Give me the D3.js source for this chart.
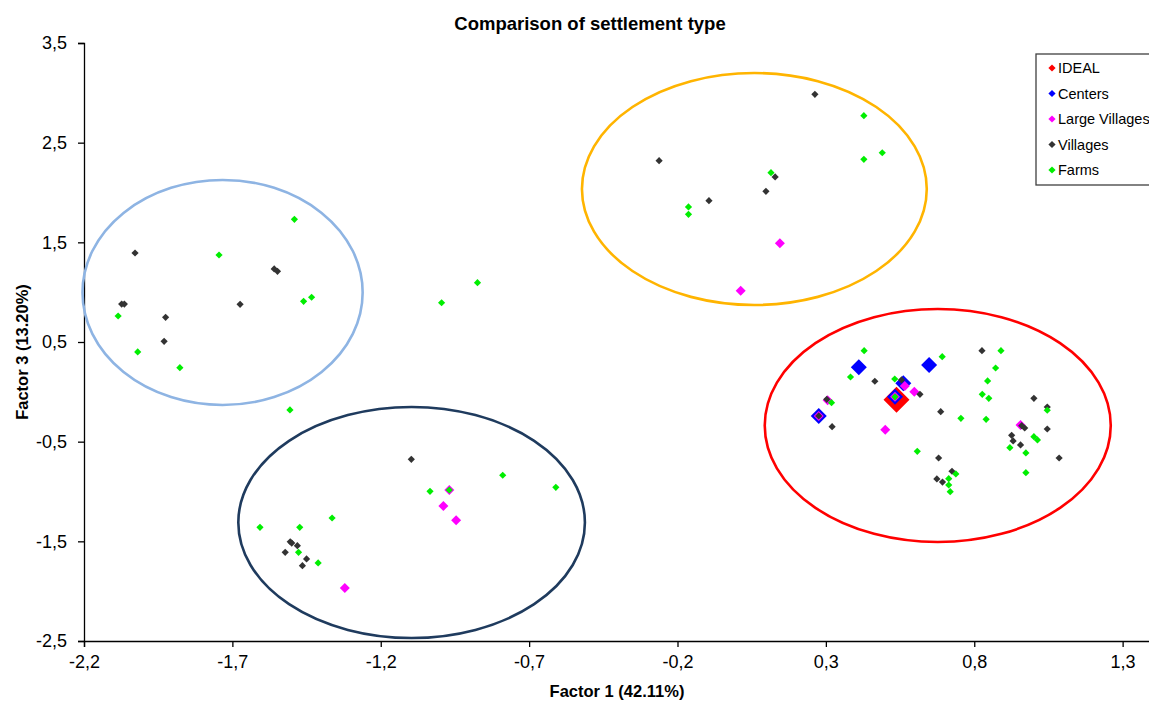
<!DOCTYPE html>
<html>
<head>
<meta charset="utf-8">
<script src="https://cdn.jsdelivr.net/npm/d3@7"></script>
<style>
  html, body { margin: 0; padding: 0; background: #fff; overflow: hidden; }
  svg { display: block; font-family: "Liberation Sans", Arial, sans-serif; }
</style>
</head>
<body>
<svg id="chart" width="1149" height="701"></svg>
<script>
// Factor scores (Factor 1, Factor 3) per settlement type
const ideal = [[0.538, -0.08]];

const centers = [
  [0.411, 0.246], [0.648, 0.269], [0.561, 0.085], [0.533, -0.05], [0.276, -0.242]
];

const largeVillages = [
  [0.145, 1.490], [0.013, 1.015],
  [-0.969, -0.985], [-0.989, -1.145], [-0.946, -1.289], [-1.321, -1.968],
  [0.566, 0.059], [0.598, 0.002], [0.533, -0.05], [0.306, -0.085],
  [0.276, -0.242], [0.500, -0.38], [0.956, -0.333]
];

const villages = [
  [-2.028, 1.393], [-2.073, 0.881], [-2.064, 0.881], [-1.925, 0.748], [-1.930, 0.507],
  [-1.559, 1.233], [-1.548, 1.209], [-1.674, 0.878],
  [-1.097, -0.677], [-1.505, -1.504], [-1.500, -1.517], [-1.481, -1.544], [-1.522, -1.610],
  [-1.450, -1.677], [-1.464, -1.744],
  [0.263, 2.985], [-0.262, 2.319], [0.129, 2.156], [0.098, 2.012], [-0.094, 1.918],
  [0.465, 0.106], [0.555, 0.119], [0.617, -0.025], [0.303, -0.075], [0.276, -0.242],
  [0.321, -0.350], [0.687, -0.199], [0.826, 0.413], [1.001, -0.065], [1.046, -0.152],
  [1.046, -0.373], [0.960, -0.340], [0.970, -0.363], [0.926, -0.436], [0.931, -0.493],
  [0.956, -0.533], [1.086, -0.664], [0.680, -0.664], [0.725, -0.797], [0.674, -0.874],
  [0.693, -0.905]
];

const farms = [
  [-1.491, 1.731], [-1.745, 1.373], [-2.085, 0.761], [-2.019, 0.400], [-1.877, 0.242],
  [-1.460, 0.908], [-1.433, 0.949], [-0.874, 1.095], [-0.995, 0.894], [-1.506, -0.182],
  [-0.789, -0.837], [-0.610, -0.958], [-1.034, -0.998], [-0.969, -0.985], [-1.607, -1.359],
  [-1.473, -1.359], [-1.364, -1.266], [-1.477, -1.610], [-1.411, -1.717],
  [0.428, 2.771], [0.490, 2.399], [0.428, 2.333], [0.115, 2.199], [-0.163, 1.855],
  [-0.163, 1.781],
  [0.429, 0.413], [0.383, 0.149], [0.532, 0.129], [0.533, -0.05], [0.319, -0.109],
  [0.692, 0.353], [0.755, -0.266], [0.608, -0.597], [0.890, 0.413], [0.872, 0.239],
  [0.845, 0.109], [0.827, -0.025], [0.849, -0.065], [0.840, -0.276], [1.046, -0.185],
  [1.001, -0.450], [1.013, -0.483], [0.920, -0.560], [0.974, -0.613], [0.974, -0.811],
  [0.738, -0.824], [0.714, -0.871], [0.714, -0.935], [0.719, -1.002]
];

// Group outlines in data units: centre x, centre y, radius x, radius y
const groupOutlines = [
  { cx: -1.733, cy: 0.997, rx: 0.472, ry: 1.129, color: "#8eb4e3" },
  { cx: -1.096, cy: -1.311, rx: 0.584, ry: 1.159, color: "#1f3b5e" },
  { cx: 0.059, cy: 2.035, rx: 0.581, ry: 1.164, color: "#ffb400" },
  { cx: 0.677, cy: -0.338, rx: 0.583, ry: 1.169, color: "#ff0000" }
];

const xTicks = [-2.2, -1.7, -1.2, -0.7, -0.2, 0.3, 0.8, 1.3];
const yTicks = [3.5, 2.5, 1.5, 0.5, -0.5, -1.5, -2.5];

const seriesNames = ["IDEAL", "Centers", "Large Villages", "Villages", "Farms"];
const seriesColors = ["#ff0000", "#0000ff", "#ff00ff", "#333333", "#00ee00"];
const seriesData = [ideal, centers, largeVillages, villages, farms];
const seriesSizes = [13, 8, 5, 3.6, 3.6];

const svg = d3.select("#chart");

// The x axis runs on past the right edge of the page
const x = d3.scaleLinear().domain([-2.2, 1.8]).range([84, 1271]);
const y = d3.scaleLinear().domain([-2.5, 3.5]).range([641, 43]);

const loc = d3.formatLocale({ decimal: ",", thousands: ".", grouping: [3], currency: ["", ""], minus: "-" });
const fmt = loc.format(".1f");

// Diamond = square turned 45 degrees, r is half of its diagonal
const diamond = r => `M0,${-r}L${r},0L0,${r}L${-r},0Z`;

// Title
svg.append("text")
  .attr("x", 590).attr("y", 30)
  .attr("text-anchor", "middle")
  .attr("font-size", 18.5).attr("font-weight", "bold")
  .text("Comparison of settlement type");

// Axes
const yAxis = d3.axisLeft(y).tickValues(yTicks).tickSize(6).tickPadding(11).tickFormat(fmt);
const xAxis = d3.axisBottom(x).tickValues(xTicks).tickSize(6).tickPadding(8).tickFormat(fmt);

const gy = svg.append("g").attr("transform", "translate(84,0)").call(yAxis);
const gx = svg.append("g").attr("transform", "translate(0,641)").call(xAxis);
[gx, gy].forEach(g => {
  g.selectAll("path.domain").attr("stroke", "#000").attr("stroke-width", 1.3);
  g.selectAll(".tick line").attr("stroke", "#000").attr("stroke-width", 1.3);
  g.selectAll(".tick text").attr("font-size", 18).attr("fill", "#000")
    .attr("font-family", "'Liberation Sans', Arial, sans-serif");
});

// Axis titles
svg.append("text")
  .attr("x", 617).attr("y", 697)
  .attr("text-anchor", "middle")
  .attr("font-size", 16.5).attr("font-weight", "bold")
  .text("Factor 1 (42.11%)");

svg.append("text")
  .attr("transform", "translate(28,352) rotate(-90)")
  .attr("text-anchor", "middle")
  .attr("font-size", 16.5).attr("font-weight", "bold")
  .text("Factor 3 (13.20%)");

// Group outlines
svg.append("g").selectAll("ellipse")
  .data(groupOutlines)
  .join("ellipse")
  .attr("cx", d => x(d.cx))
  .attr("cy", d => y(d.cy))
  .attr("rx", d => x(d.cx + d.rx) - x(d.cx))
  .attr("ry", d => y(d.cy - d.ry) - y(d.cy))
  .attr("fill", "none")
  .attr("stroke", d => d.color)
  .attr("stroke-width", 2.6);

// Points, drawn series by series so later series sit on top
seriesData.forEach((pts, i) => {
  svg.append("g").selectAll("path")
    .data(pts)
    .join("path")
    .attr("transform", d => `translate(${x(d[0])},${y(d[1])})`)
    .attr("d", diamond(seriesSizes[i]))
    .attr("fill", seriesColors[i]);
});

// Legend
const legend = svg.append("g").attr("transform", "translate(1036,54)");
legend.append("rect")
  .attr("x", 0).attr("y", 0).attr("width", 140).attr("height", 131)
  .attr("fill", "#fff").attr("stroke", "#404040").attr("stroke-width", 1.3);
seriesNames.forEach((name, i) => {
  const row = legend.append("g").attr("transform", `translate(0,${14 + i * 25.5})`);
  row.append("path")
    .attr("transform", "translate(16,0)")
    .attr("d", diamond(3.6))
    .attr("fill", seriesColors[i]);
  row.append("text")
    .attr("x", 22).attr("y", 5)
    .attr("font-size", 14.5).attr("fill", "#000")
    .text(name);
});
</script>
</body>
</html>
